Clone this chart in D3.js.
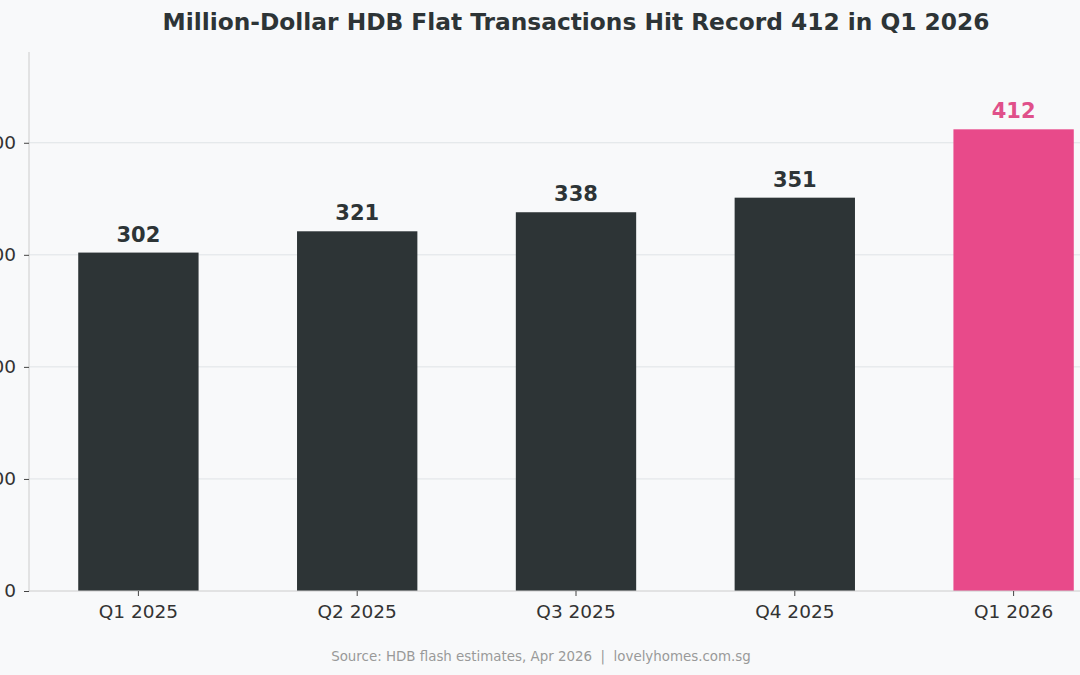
<!DOCTYPE html>
<html>
<head>
<meta charset="utf-8">
<script src="https://cdn.jsdelivr.net/npm/d3@7"></script>
<style>
  body { margin: 0; background: #f8f9fa; }
  svg { display: block; font-family: 'DejaVu Sans', sans-serif; }
</style>
</head>
<body>
<div id="chart"></div>
<script>
var quarters = ['Q1 2025', 'Q2 2025', 'Q3 2025', 'Q4 2025', 'Q1 2026'];
var transactions = [302, 321, 338, 351, 412];
var y_ticks = [0, 100, 200, 300, 400];

var settings = {
  width: 1080,
  height: 675,
  left: 29,
  right: 1123,
  top: 52,
  bottom: 591,
  y_max: 481,
  bar_color: '#2d3436',
  highlight_color: '#e84a8a',
  label_highlight: '#e0508a',
  grid_color: '#dfe3e6',
  axis_color: '#cccccc',
  bg: '#f8f9fa'
};

var svg = d3.select('#chart').append('svg')
  .attr('width', settings.width)
  .attr('height', settings.height);

svg.append('rect')
  .attr('width', settings.width)
  .attr('height', settings.height)
  .attr('fill', settings.bg);

var x = d3.scaleBand()
  .domain(quarters)
  .range([settings.left, settings.right])
  .paddingInner(0.45)
  .paddingOuter(0.225);

var y = d3.scaleLinear()
  .domain([0, settings.y_max])
  .range([settings.bottom, settings.top]);

// grid
svg.append('g').selectAll('line')
  .data(y_ticks.slice(1))
  .enter().append('line')
  .attr('x1', settings.left)
  .attr('x2', settings.width)
  .attr('y1', function(d) { return y(d); })
  .attr('y2', function(d) { return y(d); })
  .attr('stroke', settings.grid_color)
  .attr('stroke-width', 1);

// bars
var last = quarters[quarters.length - 1];
svg.append('g').selectAll('rect')
  .data(quarters)
  .enter().append('rect')
  .attr('x', function(d) { return x(d); })
  .attr('width', x.bandwidth())
  .attr('y', function(d, i) { return y(transactions[i]); })
  .attr('height', function(d, i) { return settings.bottom - y(transactions[i]); })
  .attr('fill', function(d) { return d === last ? settings.highlight_color : settings.bar_color; });

// value labels
svg.append('g').selectAll('text')
  .data(quarters)
  .enter().append('text')
  .attr('x', function(d) { return x(d) + x.bandwidth() / 2; })
  .attr('y', function(d, i) { return y(transactions[i]) - 11; })
  .attr('text-anchor', 'middle')
  .style('font-size', '21px')
  .style('font-weight', 'bold')
  .attr('fill', function(d) { return d === last ? settings.label_highlight : settings.bar_color; })
  .text(function(d, i) { return transactions[i]; });

// y axis
var yAxis = svg.append('g')
  .attr('transform', 'translate(' + settings.left + ',0)')
  .call(d3.axisLeft(y).tickValues(y_ticks).tickSize(5).tickPadding(8));
yAxis.select('.domain').attr('stroke', settings.axis_color).attr('d', 'M0,' + settings.top + 'V' + settings.bottom);
yAxis.selectAll('.tick line').attr('stroke', '#444');
yAxis.selectAll('.tick text')
  .style('font-size', '18.5px')
  .style('font-family', "'DejaVu Sans', sans-serif")
  .attr('fill', '#333');

// x axis
var xAxis = svg.append('g')
  .attr('transform', 'translate(0,' + settings.bottom + ')')
  .call(d3.axisBottom(x).tickSize(5).tickPadding(9));
xAxis.select('.domain').attr('stroke', settings.axis_color).attr('d', 'M' + settings.left + ',0H' + settings.right);
xAxis.selectAll('.tick line').attr('stroke', '#444');
xAxis.selectAll('.tick text')
  .style('font-size', '18.5px')
  .style('font-family', "'DejaVu Sans', sans-serif")
  .attr('fill', '#333');

// title
svg.append('text')
  .attr('x', (settings.left + settings.right) / 2)
  .attr('y', 30)
  .attr('text-anchor', 'middle')
  .style('font-size', '23.3px')
  .style('font-weight', 'bold')
  .attr('fill', '#2d3436')
  .text('Million-Dollar HDB Flat Transactions Hit Record 412 in Q1 2026');

// source
svg.append('text')
  .attr('x', 541)
  .attr('y', 661)
  .attr('text-anchor', 'middle')
  .style('font-size', '13.4px')
  .attr('fill', '#999999')
  .attr('xml:space', 'preserve')
  .text('Source: HDB flash estimates, Apr 2026  |  lovelyhomes.com.sg');
</script>
</body>
</html>
